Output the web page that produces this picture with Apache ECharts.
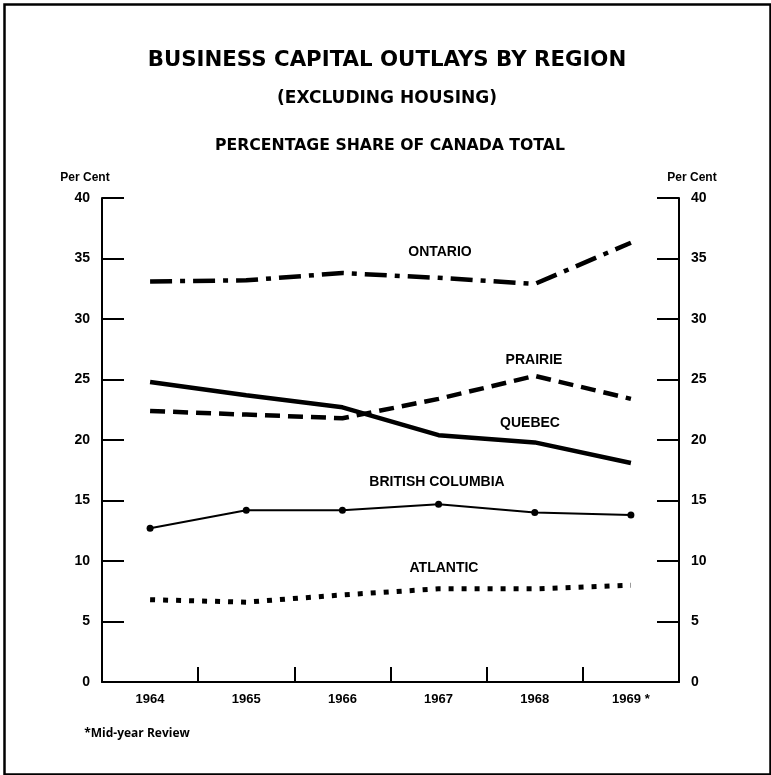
<!DOCTYPE html>
<html lang="en">
<head>
    <meta charset="UTF-8">
    <title>Business Capital Outlays by Region</title>
    <style>
        body {
            margin: 0px;
            padding: 0px;
            background: #ffffff;
        }

        #chart {
            width: 771px;
            height: 775px;
        }
    </style>
</head>
<body>
    <div id="chart"></div>
    <script src="https://cdn.jsdelivr.net/npm/echarts@6/dist/echarts.min.js"></script>
    <script>
        // values (per cent of Canada total)
        var years = ['1964', '1965', '1966', '1967', '1968', '1969'];
        var ontario = [33.1, 33.2, 33.8, 33.4, 32.9, 36.3];
        var prairie = [22.4, 22.1, 21.8, 23.4, 25.3, 23.4];
        var quebec = [24.8, 23.7, 22.7, 20.4, 19.8, 18.1];
        var britishColumbia = [12.7, 14.2, 14.2, 14.7, 14.0, 13.8];
        var atlantic = [6.8, 6.6, 7.2, 7.7, 7.7, 8.0];
        var yTicks = [0, 5, 10, 15, 20, 25, 30, 35, 40];

        var dom = document.getElementById('chart');
        var myChart = echarts.init(dom);

        var labelFont = 'Liberation Sans';
        var titleFont = 'DejaVu Sans';

        function valueAxis(pos) {
            return {
                type: 'value',
                position: pos,
                min: yTicks[0],
                max: yTicks[yTicks.length - 1],
                interval: yTicks[1] - yTicks[0],
                name: 'Per Cent',
                nameLocation: 'end',
                nameGap: 14,
                nameTextStyle: {
                    color: '#000',
                    fontFamily: labelFont,
                    fontWeight: 'bold',
                    fontSize: 12,
                    align: 'center',
                    padding: pos == 'left' ? [0, 0, 0, -34] : [0, 0, 0, 26]
                },
                axisLine: { show: true, lineStyle: { color: '#000', width: 2 } },
                axisTick: { show: true, inside: true, length: 22, lineStyle: { color: '#000', width: 2 } },
                axisLabel: {
                    color: '#000',
                    fontFamily: labelFont,
                    fontWeight: 'bold',
                    fontSize: 14,
                    margin: 12
                },
                splitLine: { show: false }
            };
        }

        function note(txt, x, y, font) {
            return {
                type: 'text',
                x: x, y: y,
                style: { text: txt, fill: '#000', font: font, align: 'center', verticalAlign: 'middle' },
                silent: true
            };
        }

        var option = {
            backgroundColor: '#fff',
            animation: false,
            grid: {
                left: 102,
                right: 92,
                top: 198,
                bottom: 93
            },
            xAxis: {
                type: 'category',
                data: years,
                boundaryGap: true,
                axisLine: { show: true, lineStyle: { color: '#000', width: 2 } },
                axisTick: { show: true, inside: true, length: 15, interval: 0, lineStyle: { color: '#000', width: 2 } },
                axisLabel: {
                    color: '#000',
                    fontFamily: labelFont,
                    fontWeight: 'bold',
                    fontSize: 13,
                    margin: 11,
                    formatter: function (v) { return v == '1969' ? '1969 *' : v; }
                },
                splitLine: { show: false }
            },
            yAxis: [valueAxis('left'), valueAxis('right')],
            series: [
                {
                    name: 'ONTARIO',
                    type: 'line',
                    data: ontario,
                    symbol: 'none',
                    lineStyle: { color: '#000', width: 4.5, type: [22, 8, 5, 8] }
                },
                {
                    name: 'PRAIRIE',
                    type: 'line',
                    data: prairie,
                    symbol: 'none',
                    lineStyle: { color: '#000', width: 4.5, type: [15, 8] }
                },
                {
                    name: 'QUEBEC',
                    type: 'line',
                    data: quebec,
                    symbol: 'none',
                    lineStyle: { color: '#000', width: 4.5 }
                },
                {
                    name: 'BRITISH COLUMBIA',
                    type: 'line',
                    data: britishColumbia,
                    symbol: 'circle',
                    symbolSize: 7,
                    itemStyle: { color: '#000' },
                    lineStyle: { color: '#000', width: 2 }
                },
                {
                    name: 'ATLANTIC',
                    type: 'line',
                    data: atlantic,
                    symbol: 'none',
                    lineStyle: { color: '#000', width: 5, type: [5, 8] }
                }
            ],
            graphic: [
                {
                    type: 'rect',
                    left: 2, top: 2,
                    shape: { width: 766, height: 770 },
                    style: { fill: 'none', stroke: '#000', lineWidth: 2.5 },
                    silent: true
                },
                note('BUSINESS CAPITAL OUTLAYS BY REGION', 387, 60, 'bold 21.3px "' + titleFont + '"'),
                note('(EXCLUDING HOUSING)', 387, 99, 'bold 17px "' + titleFont + '"'),
                note('PERCENTAGE SHARE OF CANADA TOTAL', 390, 146, 'bold 15.7px "' + titleFont + '"'),
                note('ONTARIO', 440, 252, 'bold 14px "' + labelFont + '"'),
                note('PRAIRIE', 534, 360, 'bold 14px "' + labelFont + '"'),
                note('QUEBEC', 530, 423, 'bold 14px "' + labelFont + '"'),
                note('BRITISH COLUMBIA', 437, 482, 'bold 14px "' + labelFont + '"'),
                note('ATLANTIC', 444, 568, 'bold 14px "' + labelFont + '"'),
                note('*Mid-year Review', 137, 734, 'bold 12px "Open Sans"')
            ]
        };

        myChart.setOption(option);
    </script>
</body>
</html>
